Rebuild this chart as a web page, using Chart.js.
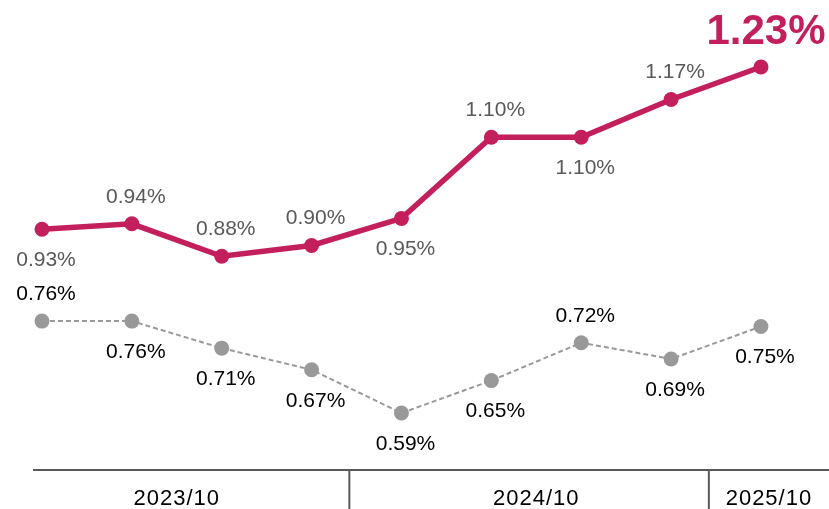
<!DOCTYPE html>
<html lang="ja">
<head>
    <meta charset="UTF-8">
    <title>Rate chart</title>
    <style>
        body {
            margin: 0;
            background-color: #ffffff;
        }
        canvas {
            display: block;
        }
    </style>
</head>
<body>
    <canvas id="rateChart" width="829" height="509"></canvas>

    <script src="https://cdn.jsdelivr.net/npm/chart.js"></script>
    <script>
        // Valores (%)
        const rateMain = [0.93, 0.94, 0.88, 0.90, 0.95, 1.10, 1.10, 1.17, 1.23];
        const rateBase = [0.76, 0.76, 0.71, 0.67, 0.59, 0.65, 0.72, 0.69, 0.75];

        // Periodos del eje inferior y primer punto de cada uno
        const periodLabels = ['2023/10', '2024/10', '2025/10'];
        const periodFirst = [0, 4, 8];

        const magenta = '#C31F5C';
        const grey = '#999999';

        // Etiquetas de valor encima o debajo de cada punto
        const pointLabels = {
            id: 'pointLabels',
            afterDatasetsDraw(chart) {
                const ctx = chart.ctx;
                chart.data.datasets.forEach((ds, di) => {
                    const meta = chart.getDatasetMeta(di);
                    meta.data.forEach((pt, i) => {
                        const text = ds.data[i].y.toFixed(2) + '%';
                        const last = ds.highlightLast && i === ds.data.length - 1;
                        ctx.save();
                        ctx.textAlign = 'center';
                        if (last) {
                            ctx.font = 'bold 42px "Liberation Sans", Arial, sans-serif';
                            ctx.fillStyle = ds.borderColor;
                            ctx.textBaseline = 'alphabetic';
                            ctx.fillText(text, pt.x + 5, pt.y - 23);
                        } else {
                            ctx.font = '21px "Liberation Sans", Arial, sans-serif';
                            ctx.fillStyle = ds.labelColor;
                            ctx.textBaseline = 'middle';
                            const dy = ds.labelSide[i] === 'above' ? -27 : 31;
                            ctx.fillText(text, pt.x + 4, pt.y + dy);
                        }
                        ctx.restore();
                    });
                });
            }
        };

        // Eje inferior con separadores por periodo
        const periodAxis = {
            id: 'periodAxis',
            afterDraw(chart) {
                const ctx = chart.ctx;
                const area = chart.chartArea;
                const x = chart.scales.x;
                const n = rateMain.length;
                ctx.save();
                ctx.strokeStyle = '#595959';
                ctx.lineWidth = 2;
                ctx.beginPath();
                ctx.moveTo(area.left, area.bottom);
                ctx.lineTo(area.right, area.bottom);
                ctx.stroke();

                ctx.font = '22px "Liberation Sans", Arial, sans-serif';
                ctx.letterSpacing = '1px';
                ctx.fillStyle = '#000000';
                ctx.textAlign = 'center';
                ctx.textBaseline = 'alphabetic';

                periodLabels.forEach((label, g) => {
                    const first = periodFirst[g];
                    const lastIdx = g < periodFirst.length - 1 ? periodFirst[g + 1] - 1 : n - 1;
                    let center = (x.getPixelForValue(first) + x.getPixelForValue(lastIdx)) / 2;
                    if (g > 0) {
                        const sep = x.getPixelForValue(first - 0.58);
                        ctx.beginPath();
                        ctx.moveTo(sep, area.bottom);
                        ctx.lineTo(sep, chart.height);
                        ctx.stroke();
                        if (g === periodLabels.length - 1) {
                            center = (sep + area.right) / 2;
                        }
                    }
                    ctx.fillText(label, center, area.bottom + 35);
                });
                ctx.restore();
            }
        };

        new Chart(document.getElementById('rateChart').getContext('2d'), {
            type: 'line',
            data: {
                datasets: [{
                    label: 'main',
                    data: rateMain.map((v, i) => ({ x: i, y: v })),
                    borderColor: magenta,
                    backgroundColor: magenta,
                    borderWidth: 5.5,
                    pointRadius: 7.5,
                    pointBorderWidth: 0,
                    labelColor: '#595959',
                    labelSide: ['below', 'above', 'above', 'above', 'below', 'above', 'below', 'above', 'above'],
                    highlightLast: true
                }, {
                    label: 'base',
                    data: rateBase.map((v, i) => ({ x: i, y: v })),
                    borderColor: grey,
                    backgroundColor: grey,
                    borderWidth: 2,
                    borderDash: [5, 3],
                    pointRadius: 7.5,
                    pointBorderWidth: 0,
                    labelColor: '#000000',
                    labelSide: ['above', 'below', 'below', 'below', 'below', 'below', 'above', 'below', 'below']
                }]
            },
            options: {
                responsive: false,
                animation: false,
                devicePixelRatio: 1,
                layout: {
                    autoPadding: false,
                    padding: { left: 33, right: 0, top: 0, bottom: 39 }
                },
                scales: {
                    x: {
                        type: 'linear',
                        display: false,
                        min: -0.1,
                        max: 8.757
                    },
                    y: {
                        display: false,
                        min: 0.4846,
                        max: 1.354
                    }
                },
                plugins: {
                    legend: { display: false },
                    tooltip: { enabled: false }
                }
            },
            plugins: [pointLabels, periodAxis]
        });
    </script>
</body>
</html>
